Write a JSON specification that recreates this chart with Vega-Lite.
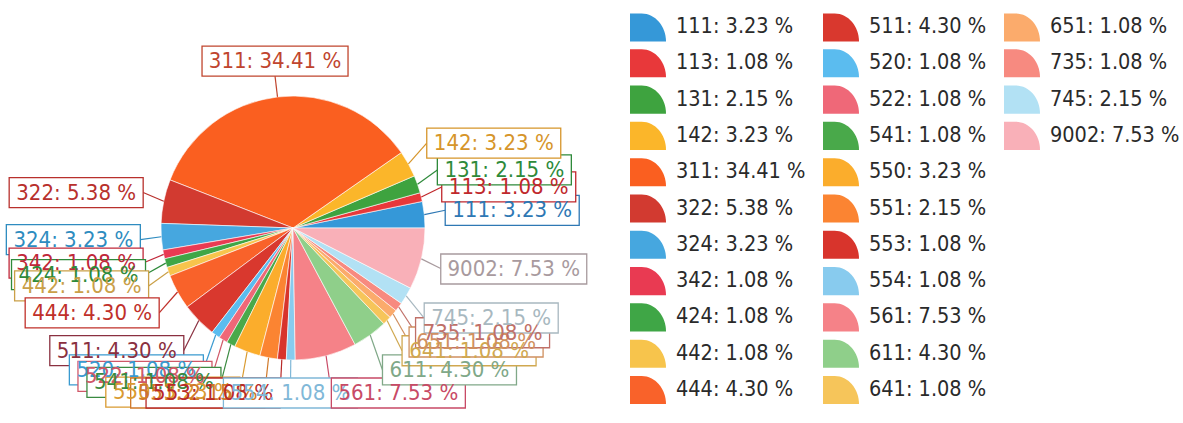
{
  "$schema": "https://vega.github.io/schema/vega-lite/v6.json",
  "width": 586,
  "height": 390,
  "autosize": {"type": "none"},
  "padding": {"left": 0, "top": 33, "right": 597, "bottom": 0},
  "background": "white",
  "config": {"view": {"stroke": null}},
  "data": {
    "values": [
      {"code": "111", "percent": 3.23},
      {"code": "113", "percent": 1.08},
      {"code": "131", "percent": 2.15},
      {"code": "142", "percent": 3.23},
      {"code": "311", "percent": 34.41},
      {"code": "322", "percent": 5.38},
      {"code": "324", "percent": 3.23},
      {"code": "342", "percent": 1.08},
      {"code": "424", "percent": 1.08},
      {"code": "442", "percent": 1.08},
      {"code": "444", "percent": 4.30},
      {"code": "511", "percent": 4.30},
      {"code": "520", "percent": 1.08},
      {"code": "522", "percent": 1.08},
      {"code": "541", "percent": 1.08},
      {"code": "550", "percent": 3.23},
      {"code": "551", "percent": 2.15},
      {"code": "553", "percent": 1.08},
      {"code": "554", "percent": 1.08},
      {"code": "561", "percent": 7.53},
      {"code": "611", "percent": 4.30},
      {"code": "641", "percent": 1.08},
      {"code": "651", "percent": 1.08},
      {"code": "735", "percent": 1.08},
      {"code": "745", "percent": 2.15},
      {"code": "9002", "percent": 7.53}
    ]
  },
  "transform": [
    {"calculate": "datum.code + ': ' + format(datum.percent, '.2f') + ' %'", "as": "label"},
    {"window": [{"op": "sum", "field": "percent", "as": "cum"}], "sort": [{"field": "code", "order": "ascending"}], "frame": [null, 0]},
    {"joinaggregate": [{"op": "sum", "field": "percent", "as": "total"}]},
    {"calculate": "2 * PI * (datum.cum - datum.percent / 2) / datum.total", "as": "ang"},
    {"calculate": "abs(datum.ang - PI / 2) < 0.4 ? 'top' : (abs(datum.ang - 3 * PI / 2) < 0.05 ? 'bottom' : (cos(datum.ang) >= 0 ? 'right' : 'left'))", "as": "side"},
    {"calculate": "length(datum.label)", "as": "len"},
    {"calculate": "132 * cos(datum.ang)", "as": "ex"},
    {"calculate": "132 * sin(datum.ang)", "as": "ey"},
    {"calculate": "153 * cos(datum.ang)", "as": "ax"},
    {"calculate": "datum.side == 'top' ? 153 * sin(datum.ang) : max(175 * sin(datum.ang), -165)", "as": "ay"},
    {"calculate": "datum.len > 11 ? 144 : 134", "as": "w"},
    {"calculate": "datum.side == 'right' ? datum.ax + datum.w / 2 : (datum.side == 'left' ? datum.ax - datum.w / 2 : datum.ax)", "as": "bx"},
    {"calculate": "datum.side == 'top' ? datum.ay + 15 : datum.ay", "as": "by"}
  ],
  "layer": [
    {
      "mark": {"type": "arc", "radius": 132, "stroke": "white", "strokeWidth": 0.6},
      "encoding": {
        "theta": {"field": "percent", "type": "quantitative", "stack": true, "scale": {"domain": [0, 100.08], "range": [1.5708, -4.7124]}},
        "order": {"field": "code", "sort": "ascending"},
        "color": {
          "field": "label",
          "type": "nominal",
          "scale": {
            "domain": [
              "111: 3.23 %", "113: 1.08 %", "131: 2.15 %", "142: 3.23 %", "311: 34.41 %", "322: 5.38 %",
              "324: 3.23 %", "342: 1.08 %", "424: 1.08 %", "442: 1.08 %", "444: 4.30 %",
              "511: 4.30 %", "520: 1.08 %", "522: 1.08 %", "541: 1.08 %", "550: 3.23 %", "551: 2.15 %",
              "553: 1.08 %", "554: 1.08 %", "561: 7.53 %", "611: 4.30 %", "641: 1.08 %",
              "651: 1.08 %", "735: 1.08 %", "745: 2.15 %", "9002: 7.53 %",
              " ", "  ", "   ", "    ", "     ", "      ", "       "
            ],
            "range": [
              "#3598d8", "#e8383a", "#3ea33f", "#fbb62a", "#fa5f20", "#d23a30",
              "#46a7df", "#e93a52", "#3fa646", "#f7c44c", "#f9622a",
              "#d9382e", "#5bbcef", "#ef6878", "#49a94a", "#fbad2c", "#fb8432",
              "#d8342c", "#88cbee", "#f58288", "#8fcf8a", "#f6c55a",
              "#fbab6c", "#f78a80", "#b2e1f4", "#f9b0b8",
              "#ffffff00", "#ffffff00", "#ffffff00", "#ffffff00", "#ffffff00", "#ffffff00", "#ffffff00"
            ]
          },
          "legend": {
            "orient": "none",
            "legendX": 630,
            "legendY": -24,
            "columns": 3,
            "title": null,
            "padding": 0,
            "symbolLimit": 40,
            "symbolType": "M-1,0.78L-1,-0.78L-0.35,-0.78A1.35,1.56 0 0 1 1,0.78Z",
            "symbolSize": 1296,
            "symbolStrokeWidth": 0,
            "symbolOpacity": 1,
            "labelFont": "DejaVu Sans Condensed, DejaVu Sans",
            "labelFontSize": 21.5,
            "labelColor": "#2a2a2a",
            "labelOffset": 10,
            "labelLimit": 0,
            "rowPadding": 3.3,
            "columnPadding": 17
          }
        }
      }
    },
    {
      "mark": {"type": "rule", "strokeWidth": 1.2},
      "encoding": {
        "x": {"field": "ex", "type": "quantitative", "scale": {"domain": [-293, 293], "nice": false, "zero": false}, "axis": null},
        "y": {"field": "ey", "type": "quantitative", "scale": {"domain": [-195, 195], "nice": false, "zero": false}, "axis": null},
        "x2": {"field": "ax"},
        "y2": {"field": "ay"},
        "stroke": {
          "field": "code", "type": "nominal", "legend": null,
          "scale": {
            "domain": ["111", "113", "131", "142", "311", "322", "324", "342", "424", "442", "444", "511", "520", "522", "541", "550", "551", "553", "554", "561", "611", "641", "651", "735", "745", "9002"],
            "range": ["#2e78b4", "#c0282c", "#2e8a3a", "#d6952a", "#c0452e", "#b8302c", "#2e8cc0", "#c0283a", "#2e8a3a", "#caa048", "#c0302a", "#8a3040", "#3a9ad0", "#d05868", "#3a8a40", "#d99a30", "#d07828", "#b82a28", "#80b8d8", "#c84a66", "#80a888", "#d0a850", "#d09060", "#c07068", "#a8b8c0", "#a89a9e"]
          }
        }
      }
    },
    {
      "mark": {"type": "point", "filled": true, "fill": "white", "size": 4, "strokeWidth": 1.3, "opacity": 1},
      "encoding": {
        "x": {"field": "bx", "type": "quantitative", "scale": {"domain": [-293, 293], "nice": false, "zero": false}, "axis": null},
        "y": {"field": "by", "type": "quantitative", "scale": {"domain": [-195, 195], "nice": false, "zero": false}, "axis": null},
        "shape": {
          "field": "len", "type": "nominal", "legend": null,
          "scale": {"domain": [11, 12], "range": ["M-67,-15H67V15H-67Z", "M-73,-15H73V15H-73Z"]}
        },
        "stroke": {"field": "code", "type": "nominal", "legend": null}
      }
    },
    {
      "mark": {"type": "text", "align": "center", "baseline": "middle", "font": "DejaVu Sans Condensed, DejaVu Sans", "fontSize": 22},
      "encoding": {
        "x": {"field": "bx", "type": "quantitative", "scale": {"domain": [-293, 293], "nice": false, "zero": false}, "axis": null},
        "y": {"field": "by", "type": "quantitative", "scale": {"domain": [-195, 195], "nice": false, "zero": false}, "axis": null},
        "text": {"field": "label"},
        "fill": {
          "field": "code", "type": "nominal", "legend": null,
          "scale": {
            "domain": ["111", "113", "131", "142", "311", "322", "324", "342", "424", "442", "444", "511", "520", "522", "541", "550", "551", "553", "554", "561", "611", "641", "651", "735", "745", "9002"],
            "range": ["#2e78b4", "#c0282c", "#2e8a3a", "#d6952a", "#c0452e", "#b8302c", "#2e8cc0", "#c0283a", "#2e8a3a", "#caa048", "#c0302a", "#8a3040", "#3a9ad0", "#d05868", "#3a8a40", "#d99a30", "#d07828", "#b82a28", "#80b8d8", "#c84a66", "#80a888", "#d0a850", "#d09060", "#c07068", "#a8b8c0", "#a89a9e"]
          }
        }
      }
    }
  ]
}
